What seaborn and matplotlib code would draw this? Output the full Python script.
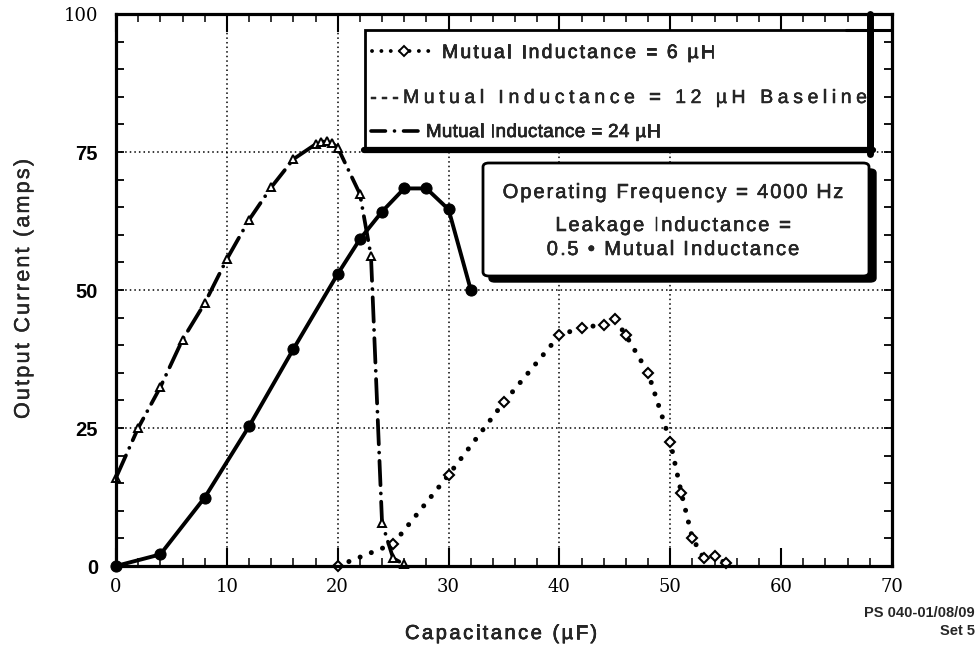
import matplotlib
matplotlib.use("Agg")
import matplotlib.pyplot as plt
import matplotlib.patheffects as pe
from matplotlib.patches import Rectangle, FancyBboxPatch
from matplotlib.lines import Line2D
from matplotlib.ticker import MultipleLocator
from matplotlib.font_manager import FontProperties
import pandas as pd
import seaborn as sns

# Capacitance (uF) and output current (A) for three mutual inductance values
cap_6uh = [20, 25, 30, 35, 40, 42, 44, 45, 46, 48, 50, 51, 52, 53, 54, 55]
amps_6uh = [0, 4, 16.5, 29.7, 41.8, 43.2, 43.7, 44.7, 41.8, 35, 22.5, 13.2, 5, 1.5, 1.8, 0.5]

cap_12uh = [0, 4, 8, 12, 16, 20, 22, 24, 26, 28, 30, 32, 32]
amps_12uh = [0, 2.1, 12.4, 25.3, 39.3, 52.9, 59.2, 64.2, 68.4, 68.4, 64.6, 50.6, 49.5]

cap_24uh = [0, 2, 4, 6, 8, 10, 12, 14, 16, 18, 18.5, 19, 19.5, 20, 22, 23, 24, 25, 26]
amps_24uh = [16, 25, 32.4, 41, 47.6, 55.6, 62.7, 68.6, 73.7, 76.4, 76.8, 77, 76.6, 75.8,
             67.4, 56.2, 7.8, 1.4, 0.3]

x_ticks = [0, 10, 20, 30, 40, 50, 60, 70]
y_ticks = [0, 25, 50, 75, 100]

x_title = "Capacitance (\u00b5F)"
y_title = "Output Current (amps)"
legend_6 = "Mutual Inductance = 6 \u00b5H"
legend_12 = "---Mutual Inductance = 12 \u00b5H Baseline"
legend_24 = "Mutual Inductance = 24 \u00b5H"
info_lines = ["Operating Frequency = 4000 Hz", "Leakage Inductance =",
              "0.5 \u2022 Mutual Inductance"]
footer = ["PS 040-01/08/09", "Set 5"]

df6 = pd.DataFrame({"cap": cap_6uh, "amps": amps_6uh})
df12 = pd.DataFrame({"cap": cap_12uh, "amps": amps_12uh})
df24 = pd.DataFrame({"cap": cap_24uh, "amps": amps_24uh})

sns.set_theme(style="ticks")
plt.rcParams["font.family"] = ["Liberation Sans", "DejaVu Sans"]

W, H = 978, 665
fig = plt.figure(figsize=(W / 100, H / 100), dpi=100)
ax = fig.add_axes([116 / W, 1 - 566 / H, (892 - 116) / W, (566 - 14) / H])
renderer = fig.canvas.get_renderer()
SANS = ["Liberation Sans", "DejaVu Sans"]


def fx(px):
    return px / W


def fy(py):
    return 1 - py / H


def text_width(s, prop):
    w, _, _ = renderer.get_text_width_height_descent(s, prop, ismath=False)
    return w


def tracked(x, y, s, size, width=None, extra=0.0, ha="left", rotation=0,
            weight="normal", stroke=0.4):
    """Draw letter-spaced text; x, y are pixel positions of the baseline anchor."""
    prop = FontProperties(family=SANS, size=size, weight=weight)
    effects = [pe.withStroke(linewidth=stroke, foreground="black")]
    ref = text_width("x", prop)
    adv = [0.0] + [text_width(s[:i] + "x", prop) - ref for i in range(1, len(s))]
    natural = text_width(s, prop)
    if width is not None:
        extra = (width - natural) / (len(s) - 1)
    total = natural + extra * (len(s) - 1)
    start = 0.0 if ha == "left" else -total / 2
    for i, ch in enumerate(s):
        if ch == " ":
            continue
        off = start + adv[i] + extra * i
        px, py = (x, y - off) if rotation == 90 else (x + off, y)
        fig.text(fx(px), fy(py), ch, fontproperties=prop, ha="left", va="baseline",
                 rotation=rotation, rotation_mode="anchor", path_effects=effects,
                 zorder=9)


ax.set_xlim(0, 70)
ax.set_ylim(0, 100)

# dotted grid
for gx in [10, 20, 30, 40, 50]:
    ax.axvline(gx, color="black", lw=1.1, ls=(0, (1, 2)), zorder=1)
for gy in [25, 50, 75]:
    ax.axhline(gy, color="black", lw=1.1, ls=(0, (1, 2)), zorder=1)

dot_style = (0, (0.01, 2.4))
dashdot_style = (0, (6.5, 2.2, 0.01, 2.2))

sns.lineplot(data=df6, x="cap", y="amps", ax=ax, sort=False, color="black",
             lw=3.6, linestyle=dot_style, dash_capstyle="round",
             marker="D", markersize=5, markerfacecolor="white",
             markeredgecolor="black", markeredgewidth=1.5, zorder=3, clip_on=False)
sns.lineplot(data=df12, x="cap", y="amps", ax=ax, sort=False, color="black",
             lw=2.8, marker="o", markersize=8, markerfacecolor="black",
             markeredgecolor="black", zorder=4, clip_on=False)
sns.lineplot(data=df24, x="cap", y="amps", ax=ax, sort=False, color="black",
             lw=2.7, linestyle=dashdot_style, dash_capstyle="round",
             marker="^", markersize=6, markerfacecolor="white",
             markeredgecolor="black", markeredgewidth=1.4, zorder=3, clip_on=False)

# axes frame and ticks
for side in ["left", "right", "top", "bottom"]:
    ax.spines[side].set_linewidth(2.3)
    ax.spines[side].set_color("black")
    ax.spines[side].set_zorder(6)

ax.xaxis.set_major_locator(MultipleLocator(10))
ax.xaxis.set_minor_locator(MultipleLocator(2))
ax.yaxis.set_major_locator(MultipleLocator(25))
ax.yaxis.set_minor_locator(MultipleLocator(5))
ax.tick_params(axis="x", which="major", direction="in", length=13, width=1.5,
               top=True, bottom=True, pad=9, colors="black")
ax.tick_params(axis="x", which="minor", direction="in", length=6, width=1.3,
               top=True, bottom=True)
ax.tick_params(axis="y", which="both", direction="in", length=6, width=1.3,
               left=True, right=True, pad=13, colors="black")

ax.set_xticks(x_ticks)
ax.set_xticklabels([str(v) for v in x_ticks])
ax.set_yticks(y_ticks)
ax.set_yticklabels([str(v) for v in y_ticks])
for lab in ax.get_xticklabels():
    lab.set_fontfamily(["DejaVu Serif"])
    lab.set_fontsize(13)
for lab in ax.get_yticklabels():
    if lab.get_text() == "100":
        lab.set_fontfamily(["DejaVu Serif"])
        lab.set_fontsize(13)
    else:
        lab.set_fontfamily(SANS)
        lab.set_fontweight("bold")
        lab.set_fontsize(14.5)

ax.set_xlabel("")
ax.set_ylabel("")
tracked(29, 289, y_title, 15.5, width=260, ha="center", rotation=90, stroke=0.25)
tracked(501, 639, x_title, 14.5, width=192, ha="center", stroke=0.45)
fig.text(fx(975), fy(613), footer[0], ha="right", va="center", fontsize=10.5,
         fontweight="bold")
fig.text(fx(975), fy(631), footer[1], ha="right", va="center", fontsize=10.5,
         fontweight="bold")

# legend box with heavy right/bottom edge
tf = fig.transFigure
fig.patches.append(Rectangle((fx(365), fy(151)), fx(872) - fx(365), fy(30) - fy(151),
                             transform=tf, facecolor="white", edgecolor="black",
                             lw=2.0, zorder=7))
fig.lines.append(Line2D([fx(870), fx(870)], [fy(14), fy(154)], transform=tf,
                        color="black", lw=5, zorder=8))
fig.lines.append(Line2D([fx(846), fx(892)], [fy(29.5), fy(29.5)], transform=tf,
                        color="black", lw=2.2, zorder=8))
fig.lines.append(Line2D([fx(364), fx(873)], [fy(150), fy(150)], transform=tf,
                        color="black", lw=4.5, zorder=8))

fig.lines.append(Line2D([fx(372), fx(437)], [fy(51), fy(51)], transform=tf,
                        color="black", lw=2.8, ls=dot_style, dash_capstyle="round",
                        zorder=9))
fig.lines.append(Line2D([fx(404)], [fy(51)], transform=tf, color="black",
                        marker="D", markersize=5, markerfacecolor="white",
                        markeredgewidth=1.4, zorder=10))
tracked(442, 58, legend_6, 14, width=273, stroke=0.45)
tracked(370, 103, legend_12, 14, width=497, stroke=0.3)
fig.lines.append(Line2D([fx(371), fx(420)], [fy(131), fy(131)], transform=tf,
                        color="black", lw=2.6, ls=(0, (4, 2.5, 0.01, 2.5)),
                        dash_capstyle="round", zorder=9))
tracked(426, 137, legend_24, 13.5, width=234, stroke=0.45)

# annotation box with drop shadow
fig.patches.append(FancyBboxPatch((fx(489), fy(282)), fx(876) - fx(489), fy(169) - fy(282),
                                  boxstyle="round,pad=0,rounding_size=0.006",
                                  transform=tf, facecolor="black", edgecolor="black",
                                  lw=1, zorder=7))
fig.patches.append(FancyBboxPatch((fx(483), fy(276)), fx(869) - fx(483), fy(163) - fy(276),
                                  boxstyle="round,pad=0,rounding_size=0.006",
                                  transform=tf, facecolor="white", edgecolor="black",
                                  lw=2.0, zorder=8))
for txt, py in zip(info_lines, [198, 231, 255]):
    tracked(673, py, txt, 14.5, extra=1.9, ha="center", stroke=0.35)

fig.savefig("out.png", dpi=100)
